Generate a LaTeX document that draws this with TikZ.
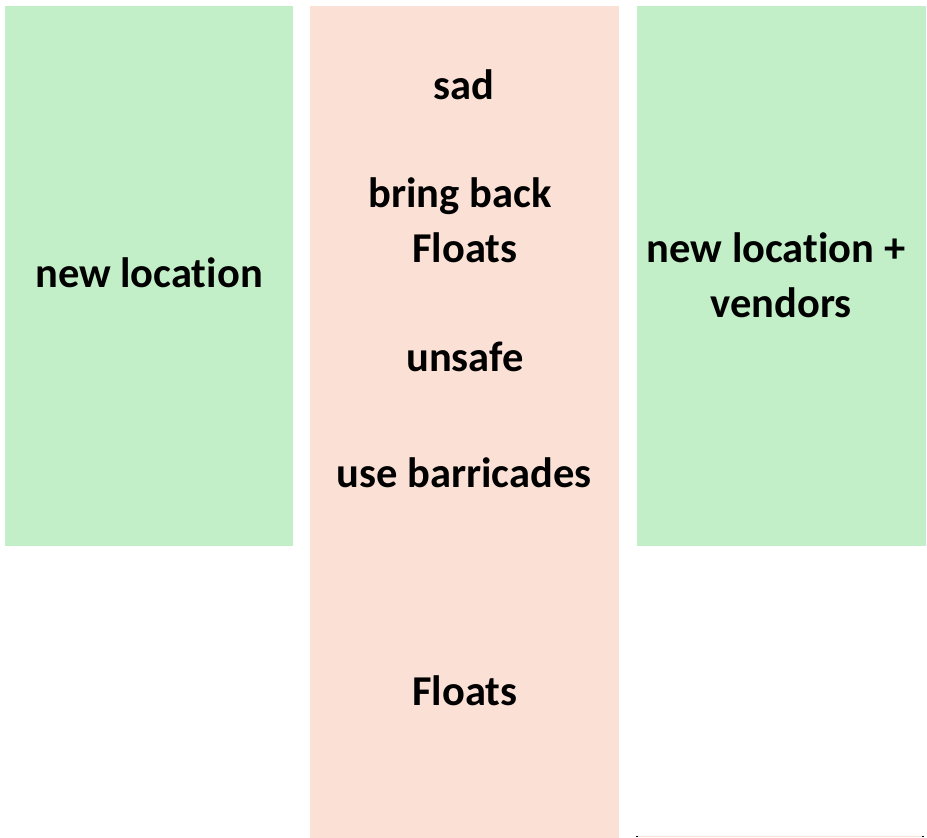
\documentclass[tikz,border=0pt]{standalone}
\usepackage{fontspec}
\setmainfont{Carlito}[Ligatures={NoCommon,NoRequired,NoContextual}]
\definecolor{boxgreen}{HTML}{C2EFC7}
\definecolor{boxpink}{HTML}{FBE1D5}
\begin{document}
\begin{tikzpicture}[x=1pt,y=-1pt,
  greenbox/.style={fill=boxgreen,draw=none},
  pinkbox/.style={fill=boxpink,draw=none},
  lbl/.style={anchor=base,inner sep=0pt,font=\fontsize{42.5}{52}\selectfont\bfseries}]
\useasboundingbox (0,0) rectangle (927,838);
\fill[boxgreen] (5,6) rectangle (293,546);
\fill[boxpink] (310,6) rectangle (619,838);
\fill[boxgreen] (637,6) rectangle (926,546);
\draw[boxpink, line width=1.2pt] (637,836.5) -- (923,836.5);
\draw[black, line width=1.2pt] (636,836.5) -- (638,836.5);
\draw[black, line width=1.2pt] (922,836.5) -- (924,836.5);
\coordinate (lb) at (149,287);
\node[lbl] (t1) at (lb) {new location};
\node[lbl] (t2) at (464,99) {sad};
\node[lbl] (t3) at (460,207) {bring back};
\node[lbl] (t4) at (465,262) {Floats};
\node[lbl] (t5) at (465,371) {unsafe};
\node[lbl] (t6) at (464,487) {use barricades};
\node[lbl] (t7) at (465,705) {Floats};
\node[lbl] (t8) at (776,262) {new location +};
\node[lbl] (t9) at (781,317) {vendors};
\end{tikzpicture}
\end{document}
